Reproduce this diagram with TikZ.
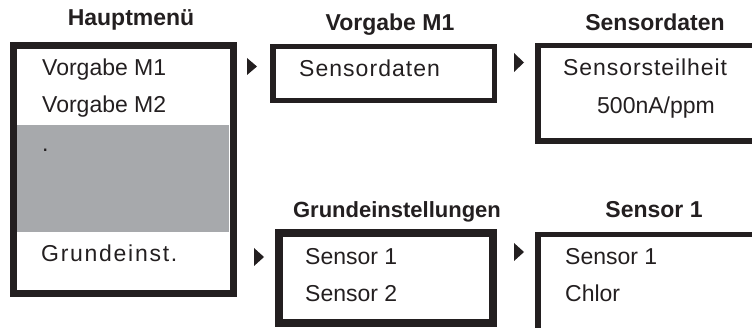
\documentclass[tikz,border=0pt]{standalone}
\usepackage{fontspec}
\setmainfont{Liberation Sans}
\definecolor{ink}{HTML}{231F20}
\definecolor{menugray}{HTML}{A7A9AC}
\begin{document}
\begin{tikzpicture}[x=1pt,y=-1pt,
  title/.style={anchor=base,font=\fontsize{23}{27}\selectfont\bfseries,text=ink,inner sep=0pt},
  entry/.style={anchor=base west,font=\fontsize{23}{27}\selectfont,text=ink,inner sep=0pt},
  frame/.style={draw=ink},
  tri/.style={fill=ink}]
\useasboundingbox (0,0) rectangle (752,328);
\clip (0,0) rectangle (752,328);
% main menu
\fill[menugray] (17,125) rectangle (229,232);
\draw[frame,line width=7pt] (13.5,45.5) rectangle (233.5,293.5);
\node[title] (t1) at (131,26) {Hauptmenü};
\node[entry] (a1) at (42,75.5) {Vorgabe M1};
\node[entry] (a2) at (42,112.5) {Vorgabe M2};
\node[entry] (a3) at (42,152) {.};
\node[entry] (a4) at (41,262) {\addfontfeature{LetterSpace=7.5}Grundeinst.};
% Vorgabe M1
\draw[frame,line width=5.5pt] (273,46.5) rectangle (494.5,100.5);
\node[title] (t2) at (390,31) {Vorgabe M1};
\node[entry] (b1) at (299,76.5) {\addfontfeature{LetterSpace=4.5}Sensordaten};
% Sensordaten
\draw[frame,line width=5.5pt] (538,45.5) rectangle (770,141);
\node[title] (t3) at (655,31) {Sensordaten};
\node[entry] (c1) at (563,76) {\addfontfeature{LetterSpace=4}Sensorsteilheit};
\node[entry] (c2) at (597,113.5) {500nA/ppm};
% Grundeinstellungen
\draw[frame,line width=8pt] (278.5,233) rectangle (493,323);
\node[title,font=\fontsize{22}{26}\selectfont\bfseries] (t4) at (397,217.5) {Grundeinstellungen};
\node[entry] (d1) at (305,265) {Sensor 1};
\node[entry] (d2) at (305,302) {Sensor 2};
% Sensor 1
\draw[frame,line width=5.5pt] (538,234.5) rectangle (770,345);
\node[title] (t5) at (654,218) {Sensor 1};
\node[entry] (e1) at (565,265) {Sensor 1};
\node[entry] (e2) at (565,302) {Chlor};
% triangles
\fill[tri] (247,58) -- (247,75) -- (257,66.5) -- cycle;
\fill[tri] (514,53) -- (514,72) -- (524,62.5) -- cycle;
\fill[tri] (254,248) -- (254,266) -- (264,257) -- cycle;
\fill[tri] (514,243) -- (514,261) -- (524,252) -- cycle;
\end{tikzpicture}
\end{document}
